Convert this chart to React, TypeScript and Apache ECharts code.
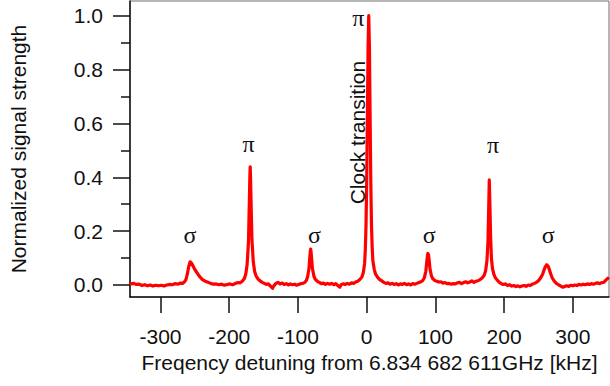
import React, { useEffect, useRef } from "react";
import * as echarts from "echarts";

// Detuning (kHz) and normalized signal of the measured spectrum
const freq = [
  -343, -339, -335, -331, -327, -323, -319, -315, -311, -307, -303, -299, -295, -291, -287, -283, -279, -275, -271, -268,
  -265, -263, -261, -259, -257, -255, -253, -251, -248, -245, -242, -239, -235, -231, -227, -223, -219, -215, -211, -207,
  -203, -199, -195, -191, -187, -184, -181, -178, -176, -174, -172, -171, -170, -169.5, -169, -168, -167, -165, -163, -161,
  -158, -155, -152, -149, -146, -143, -140, -137, -135, -132, -129, -126, -123, -120, -117, -114, -111, -108, -105, -102,
  -99, -96, -93, -90, -88, -86, -84, -83, -82, -81.5, -81, -80, -79, -77, -75, -72, -69, -66, -63, -60,
  -57, -54, -51, -48, -45, -42, -39, -37, -34, -31, -28, -25, -22, -19, -16, -13, -10, -7, -5, -3,
  -2, -1, 0, 1, 2, 3, 4, 5, 6, 7, 8, 9, 11, 13, 16, 19, 22, 25, 28, 31,
  34, 37, 40, 43, 46, 49, 52, 55, 58, 61, 64, 67, 70, 73, 76, 79, 82, 84, 86, 87,
  88, 89, 90, 91, 92, 94, 96, 99, 102, 105, 108, 111, 114, 117, 120, 123, 126, 129, 132, 135,
  138, 141, 144, 147, 150, 153, 156, 159, 162, 165, 168, 171, 173, 175, 176.5, 177.5, 178.4, 179.3, 180.3, 181.5,
  183, 185, 187, 190, 193, 196, 199, 202, 205, 208, 211, 214, 217, 220, 223, 226, 229, 232, 235, 238,
  241, 244, 247, 250, 253, 256, 258, 260, 262, 264, 266, 268, 270, 273, 276, 279, 282, 285, 288, 291,
  294, 297, 300, 303, 306, 309, 312, 315, 318, 321, 324, 327, 330, 333, 336, 339, 342, 345, 348, 351,
];

const signal = [
  0.004, 0.006, 0.002, 0.003, -0.002, 0.001, -0.003, 0.0, -0.004, -0.001, -0.003, -0.001, -0.004, 0.0, 0.002, 0.001, 0.005, 0.003, 0.007, 0.006,
  0.012, 0.02, 0.04, 0.068, 0.086, 0.082, 0.072, 0.062, 0.05, 0.038, 0.028, 0.02, 0.014, 0.01, 0.006, 0.003, 0.004, 0.001, 0.003, -0.001,
  0.002, 0.004, 0.001, 0.006, 0.009, 0.008, 0.014, 0.024, 0.04, 0.075, 0.16, 0.28, 0.4, 0.439, 0.4, 0.28, 0.17, 0.085, 0.05, 0.034,
  0.022, 0.015, 0.01, 0.006, 0.002, 0.004, -0.004, -0.012, -0.003, 0.006, 0.01, 0.004, 0.007, 0.002, 0.005, 0.0, 0.004, 0.001, 0.003, -0.001,
  0.002, 0.005, 0.006, 0.01, 0.016, 0.03, 0.06, 0.095, 0.125, 0.133, 0.125, 0.095, 0.062, 0.035, 0.022, 0.014, 0.01, 0.005, 0.007, 0.002,
  0.006, 0.003, 0.006, 0.001, 0.005, -0.002, -0.008, 0.002, 0.004, 0.002, 0.006, 0.003, 0.008, 0.006, 0.011, 0.014, 0.02, 0.03, 0.045, 0.08,
  0.13, 0.22, 0.38, 0.62, 0.88, 1.0, 0.88, 0.62, 0.38, 0.22, 0.14, 0.09, 0.058, 0.04, 0.028, 0.02, 0.015, 0.01, 0.006, 0.008,
  0.003, 0.006, 0.002, 0.005, 0.0, 0.004, 0.002, 0.006, 0.001, 0.004, 0.0, 0.005, 0.003, 0.006, 0.009, 0.012, 0.018, 0.028, 0.05, 0.075,
  0.1, 0.117, 0.112, 0.09, 0.062, 0.036, 0.024, 0.017, 0.014, 0.011, 0.012, 0.007, 0.009, 0.005, 0.006, 0.003, 0.005, 0.004, 0.008, 0.01,
  0.005, 0.009, 0.012, 0.008, 0.011, 0.015, 0.01, 0.014, 0.016, 0.02, 0.026, 0.036, 0.052, 0.09, 0.16, 0.28, 0.39, 0.3, 0.18, 0.1,
  0.062, 0.04, 0.028, 0.018, 0.01, 0.005, 0.002, 0.004, -0.002, 0.001, -0.004, -0.002, -0.006, -0.003, -0.007, -0.004, -0.002, -0.005, 0.0, -0.002,
  0.003, 0.006, 0.01, 0.016, 0.026, 0.04, 0.055, 0.068, 0.075, 0.07, 0.056, 0.04, 0.026, 0.014, 0.006, 0.001, -0.003, -0.008, -0.006, -0.003,
  -0.005, -0.001, -0.003, 0.0, -0.002, 0.002, 0.0, 0.003, 0.001, 0.004, 0.002, 0.005, 0.003, 0.006, 0.008, 0.005, 0.009, 0.01, 0.018, 0.025,
];

// Axis ranges and ticks
const X_MIN = -344.4;
const X_MAX = 352.6;
const X_TICKS = [-300, -200, -100, 0, 100, 200, 300];
const Y_MIN = -0.0446;
const Y_MAX = 1.0546;
const Y_TICKS = [0, 0.2, 0.4, 0.6, 0.8, 1.0];
const Y_MINOR_TICKS = [0.1, 0.3, 0.5, 0.7, 0.9];

// Transition labels placed in data coordinates
const annotX = [-257, -172, -76, -12, 91, 184, 264];
const annotY = [0.187, 0.525, 0.187, 0.99, 0.187, 0.52, 0.187];
const annotText = ["σ", "π", "σ", "π", "σ", "π", "σ"];

const clockX = [-13];
const clockY = [0.566];
const clockText = ["Clock transition"];

const SANS = "'Liberation Sans', Arial, sans-serif";
const SERIF = "'Liberation Serif', 'Times New Roman', serif";
const INK = "#111111";

export default function App() {
  const ref = useRef<HTMLDivElement>(null);

  useEffect(() => {
    if (!ref.current) return;
    const chart = echarts.init(ref.current, undefined, { renderer: "svg" });

    const lineData = freq.map((f, i) => [f, signal[i]]);
    const greekData = annotX.map((x, i) => ({
      value: [x, annotY[i]],
      label: { formatter: annotText[i] },
    }));
    const clockData = clockX.map((x, i) => ({
      value: [x, clockY[i]],
      label: { formatter: clockText[i] },
    }));

    const plainLabel = {
      show: true,
      position: "inside",
      color: INK,
      textBorderWidth: 0,
      textBorderColor: "transparent",
      textShadowBlur: 0,
      opacity: 1,
    };

    chart.setOption({
      animation: false,
      backgroundColor: "#ffffff",
      grid: {
        left: 130,
        top: 1,
        width: 479,
        height: 296,
        show: true,
        borderColor: "#6e6e6e",
        borderWidth: 1,
        backgroundColor: "transparent",
      },
      xAxis: {
        type: "value",
        min: X_MIN,
        max: X_MAX,
        axisLine: { show: true, onZero: false, lineStyle: { color: INK, width: 1.5 } },
        axisTick: { show: true, inside: false, length: 16, customValues: X_TICKS, lineStyle: { color: INK, width: 1.5 } },
        axisLabel: {
          customValues: X_TICKS,
          formatter: (v: number) => String(v),
          fontSize: 21,
          fontFamily: SANS,
          color: INK,
          margin: 29,
        },
        splitLine: { show: false },
        name: "Freqency detuning from 6.834 682 611GHz [kHz]",
        nameLocation: "middle",
        nameGap: 53,
        nameTextStyle: { fontSize: 21, fontFamily: SANS, color: INK },
      },
      yAxis: [
        {
          type: "value",
          position: "left",
          min: Y_MIN,
          max: Y_MAX,
          axisLine: { show: true, onZero: false, lineStyle: { color: INK, width: 1.5 } },
          axisTick: { show: true, inside: false, length: 17, customValues: Y_TICKS, lineStyle: { color: INK, width: 1.5 } },
          axisLabel: {
            customValues: Y_TICKS,
            formatter: (v: number) => v.toFixed(1),
            fontSize: 21,
            fontFamily: SANS,
            color: INK,
            margin: 27,
          },
          splitLine: { show: false },
          name: "Normalized signal strength",
          nameLocation: "middle",
          nameGap: 101,
          nameTextStyle: { fontSize: 21, fontFamily: SANS, color: INK },
        },
        {
          // minor ticks between the labelled ones
          type: "value",
          position: "left",
          min: Y_MIN,
          max: Y_MAX,
          axisLine: { show: false, onZero: false },
          axisTick: { show: true, inside: false, length: 9, customValues: Y_MINOR_TICKS, lineStyle: { color: INK, width: 1.5 } },
          axisLabel: { show: false },
          splitLine: { show: false },
        },
      ],
      series: [
        {
          type: "line",
          data: lineData,
          showSymbol: false,
          symbol: "none",
          lineStyle: { color: "#ff0000", width: 3.2, join: "round", cap: "round" },
          silent: true,
          z: 3,
        },
        {
          type: "scatter",
          data: greekData,
          symbolSize: 0,
          silent: true,
          itemStyle: { color: INK, opacity: 1 },
          label: { ...plainLabel, fontSize: 24, fontFamily: SERIF },
          z: 4,
        },
        {
          type: "scatter",
          data: clockData,
          symbolSize: 0,
          silent: true,
          itemStyle: { color: INK, opacity: 1 },
          label: { ...plainLabel, rotate: 90, fontSize: 21, fontFamily: SANS },
          z: 4,
        },
      ],
    });

    return () => chart.dispose();
  }, []);

  return (
    <div
      ref={ref}
      style={{ position: "fixed", left: 0, top: 0, width: 610, height: 386, background: "#fff" }}
    />
  );
}
